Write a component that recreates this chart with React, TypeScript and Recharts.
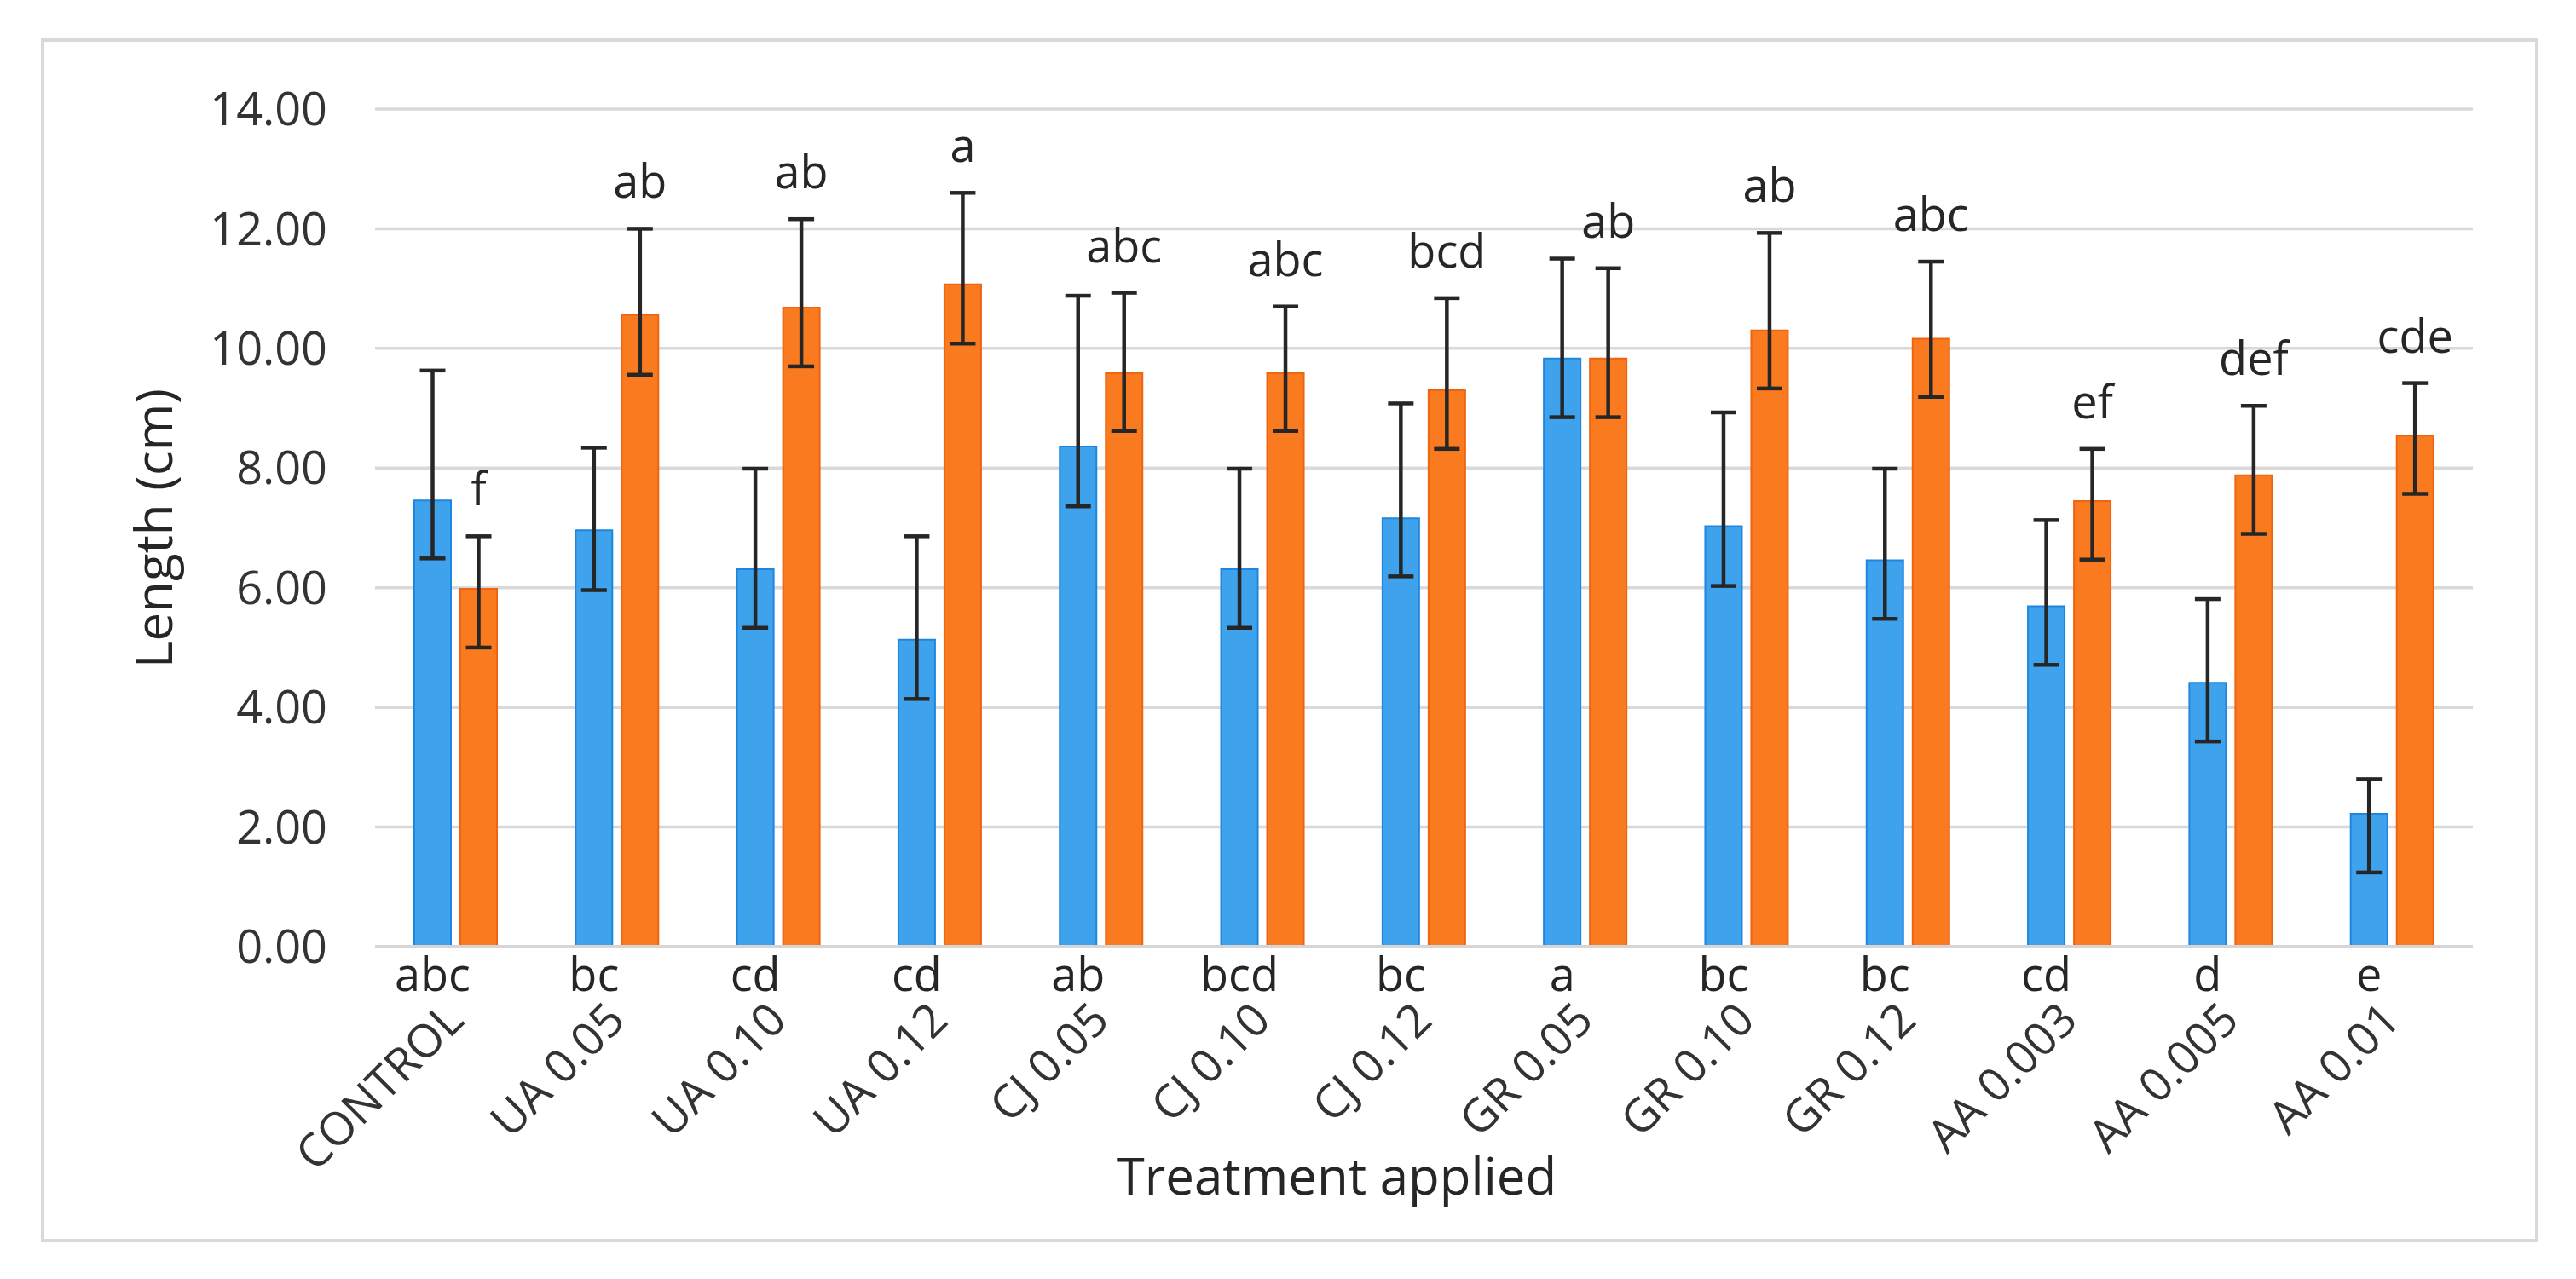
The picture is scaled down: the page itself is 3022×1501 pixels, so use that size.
import React from 'react';
import { BarChart, Bar, XAxis, YAxis, CartesianGrid, ErrorBar, LabelList } from 'recharts';

const categories = [
  'CONTROL', 'UA 0.05', 'UA 0.10', 'UA 0.12', 'CJ 0.05', 'CJ 0.10', 'CJ 0.12',
  'GR 0.05', 'GR 0.10', 'GR 0.12', 'AA 0.003', 'AA 0.005', 'AA 0.01',
];

const blueMean = [7.46, 6.96, 6.31, 5.13, 8.36, 6.31, 7.16, 9.83, 7.03, 6.46, 5.69, 4.41, 2.22];
const blueErrUp = [2.17, 1.38, 1.68, 1.73, 2.52, 1.68, 1.92, 1.67, 1.9, 1.53, 1.44, 1.4, 0.58];
const blueErrDown = [0.97, 1.0, 0.98, 0.99, 1.0, 0.98, 0.97, 0.98, 1.0, 0.98, 0.98, 0.98, 0.98];

const orangeMean = [5.98, 10.56, 10.68, 11.07, 9.59, 9.59, 9.3, 9.83, 10.3, 10.16, 7.45, 7.88, 8.54];
const orangeErrUp = [0.88, 1.44, 1.48, 1.53, 1.34, 1.11, 1.54, 1.51, 1.63, 1.29, 0.87, 1.16, 0.88];
const orangeErrDown = [0.98, 1.0, 0.98, 0.99, 0.97, 0.97, 0.98, 0.98, 0.97, 0.97, 0.98, 0.98, 0.97];

const blueLetters = ['abc', 'bc', 'cd', 'cd', 'ab', 'bcd', 'bc', 'a', 'bc', 'bc', 'cd', 'd', 'e'];
const orangeLetters = ['f', 'ab', 'ab', 'a', 'abc', 'abc', 'bcd', 'ab', 'ab', 'abc', 'ef', 'def', 'cde'];

const yTicks = [0, 2, 4, 6, 8, 10, 12, 14];

const data = categories.map((name, i) => ({
  name,
  idx: i,
  blue: blueMean[i],
  orange: orangeMean[i],
  blueErr: [blueErrDown[i], blueErrUp[i]],
  orangeErr: [orangeErrDown[i], orangeErrUp[i]],
}));

const FONT = '"Open Sans", "Noto Sans", sans-serif';
const TEXT = '#262626';

function box(props: any) {
  const vb = props.viewBox && props.viewBox.width !== undefined ? props.viewBox : props;
  return { x: Number(vb.x), y: Number(vb.y), width: Number(vb.width), height: Number(vb.height) };
}

// letter above the orange bar, sitting over its error cap
function OrangeLetter(props: any) {
  const i = Number(props.value);
  const { x, y, width, height } = box(props);
  const perUnit = height / orangeMean[i];
  const errTop = y - orangeErrUp[i] * perUnit;
  return (
    <text x={x + width / 2} y={errTop - 36} textAnchor="middle" fontSize={54} fontFamily={FONT} fill={TEXT}>
      {orangeLetters[i]}
    </text>
  );
}

// letter for the blue bar, just under the category axis
function BlueLetter(props: any) {
  const i = Number(props.value);
  const { x, y, width, height } = box(props);
  return (
    <text x={x + width / 2} y={y + height + 52} textAnchor="middle" fontSize={54} fontFamily={FONT} fill={TEXT}>
      {blueLetters[i]}
    </text>
  );
}

function CategoryTick({ x, y, payload }: any) {
  return (
    <text
      transform={`translate(${x + 12},${y + 89}) rotate(-45)`}
      textAnchor="end"
      fontSize={54}
      fontFamily={FONT}
      fill="#333"
    >
      {payload.value}
    </text>
  );
}

export default function App() {
  return (
    <div style={{ position: 'absolute', left: 0, top: 0, width: 3022, height: 1501, background: '#fff' }}>
      <div
        style={{
          position: 'absolute', left: 48, top: 45, width: 2930, height: 1413,
          border: '4px solid #d9d9d9', boxSizing: 'border-box',
        }}
      />
      <div style={{ position: 'absolute', left: 0, top: 0 }}>
        <BarChart
          width={3022}
          height={1501}
          data={data}
          margin={{ top: 128, right: 121, bottom: 90, left: 40 }}
          barGap={11}
        >
          <CartesianGrid vertical={false} stroke="#d9d9d9" strokeWidth={3.5} />
          <XAxis
            dataKey="name"
            height={300}
            interval={0}
            tickLine={false}
            tickSize={0}
            tickMargin={0}
            axisLine={{ stroke: '#d6d6d6', strokeWidth: 4 }}
            tick={<CategoryTick />}
            label={{
              content: () => (
                <text x={1568} y={1402} textAnchor="middle" fontSize={60} fontFamily={FONT} fill={TEXT}>
                  Treatment applied
                </text>
              ),
            }}
          />
          <YAxis
            width={400}
            domain={[0, 14]}
            ticks={yTicks}
            interval={0}
            axisLine={false}
            tickLine={false}
            tickSize={0}
            tickMargin={56}
            tickFormatter={(v: number) => v.toFixed(2)}
            tick={{ fontSize: 54, fontFamily: FONT, fill: '#333' }}
            label={{
              content: () => (
                <text
                  transform="translate(202,620) rotate(-90)"
                  textAnchor="middle"
                  fontSize={60}
                  fontFamily={FONT}
                  fill={TEXT}
                >
                  Length (cm)
                </text>
              ),
            }}
          />
          <Bar dataKey="blue" fill="#3ea3ec" stroke="#1f86e0" strokeWidth={2} barSize={43} isAnimationActive={false}>
            <ErrorBar dataKey="blueErr" direction="y" width={15} stroke={TEXT} strokeWidth={4.5} isAnimationActive={false} />
            <LabelList dataKey="idx" content={<BlueLetter />} />
          </Bar>
          <Bar dataKey="orange" fill="#f97a1f" stroke="#ee6410" strokeWidth={2} barSize={43} isAnimationActive={false}>
            <ErrorBar dataKey="orangeErr" direction="y" width={15} stroke={TEXT} strokeWidth={4.5} isAnimationActive={false} />
            <LabelList dataKey="idx" content={<OrangeLetter />} />
          </Bar>
        </BarChart>
      </div>
    </div>
  );
}
